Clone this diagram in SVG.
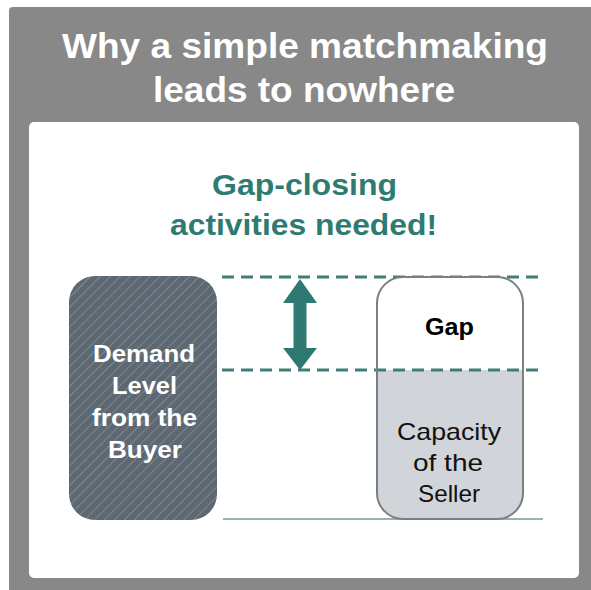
<svg xmlns="http://www.w3.org/2000/svg" width="591" height="590" viewBox="0 0 591 590">
  <defs>
    <style>
      .title { font-family: "Liberation Sans", Arial, sans-serif; font-weight: bold; font-size: 35px; fill: #ffffff; text-anchor: middle; }
      .sub { font-family: "Liberation Sans", Arial, sans-serif; font-weight: bold; font-size: 29px; fill: #2e7b72; text-anchor: middle; }
      .demand { font-family: "Liberation Sans", Arial, sans-serif; font-weight: bold; font-size: 23px; fill: #ffffff; text-anchor: middle; }
      .gap { font-family: "Liberation Sans", Arial, sans-serif; font-weight: bold; font-size: 23px; fill: #000000; text-anchor: middle; }
      .cap { font-family: "Liberation Sans", Arial, sans-serif; font-size: 24px; fill: #111111; text-anchor: middle; }
      .dash { stroke: #3d7f78; stroke-width: 3; stroke-dasharray: 12 7; fill: none; }
    </style>
    <pattern id="hatch" patternUnits="userSpaceOnUse" width="7" height="7" patternTransform="rotate(45)">
      <rect width="7" height="7" fill="#5d6872"/>
      <line x1="0" y1="0" x2="0" y2="7" stroke="#808a93" stroke-width="1.8"/>
    </pattern>
    <clipPath id="sellerClip">
      <rect x="377" y="277" width="146" height="242" rx="26" ry="26"/>
    </clipPath>
  </defs>

  <g id="background">
    <rect x="9" y="7" width="600" height="600" rx="4" ry="4" fill="#888888"/>
    <rect x="29" y="122" width="550" height="456" rx="5" ry="5" fill="#ffffff"/>
  </g>

  <g id="title">
    <text class="title" x="305" y="58" textLength="486" lengthAdjust="spacingAndGlyphs">Why a simple matchmaking</text>
    <text class="title" x="304" y="102" textLength="302" lengthAdjust="spacingAndGlyphs">leads to nowhere</text>
  </g>

  <g id="subtitle">
    <text class="sub" x="304.5" y="195" textLength="185" lengthAdjust="spacingAndGlyphs">Gap-closing</text>
    <text class="sub" x="303.5" y="235" textLength="267" lengthAdjust="spacingAndGlyphs">activities needed!</text>
  </g>

  <g id="connectors">
    <line class="dash" x1="222" y1="277" x2="543" y2="277"/>
    <line class="dash" x1="222" y1="370" x2="543" y2="370"/>
    <line x1="223" y1="519" x2="543" y2="519" stroke="#7a9a94" stroke-width="1.5"/>
    <polygon points="300,279 317,303 306.5,303 306.5,348 317,348 300,370 283,348 293.5,348 293.5,303 283,303" fill="#2e7a73"/>
  </g>

  <g id="demand">
    <rect x="69" y="276" width="148" height="244" rx="26" ry="26" fill="url(#hatch)"/>
    <text class="demand" x="144" y="362" textLength="102" lengthAdjust="spacingAndGlyphs">Demand</text>
    <text class="demand" x="144.5" y="394" textLength="65" lengthAdjust="spacingAndGlyphs">Level</text>
    <text class="demand" x="144.5" y="426" textLength="105" lengthAdjust="spacingAndGlyphs">from the</text>
    <text class="demand" x="145" y="458" textLength="74" lengthAdjust="spacingAndGlyphs">Buyer</text>
  </g>

  <g id="seller">
    <rect x="377" y="277" width="146" height="242" rx="26" ry="26" fill="#ffffff"/>
    <rect x="377" y="370" width="146" height="150" fill="#d1d4d8" clip-path="url(#sellerClip)"/>
    <line class="dash" x1="377" y1="370" x2="523" y2="370" stroke-dashoffset="3"/>
    <rect x="377" y="277" width="146" height="242" rx="26" ry="26" fill="none" stroke="#7b7f82" stroke-width="2"/>
    <text class="gap" x="449.5" y="335" textLength="49" lengthAdjust="spacingAndGlyphs">Gap</text>
    <text class="cap" x="449" y="440" textLength="104" lengthAdjust="spacingAndGlyphs">Capacity</text>
    <text class="cap" x="448" y="471" textLength="70" lengthAdjust="spacingAndGlyphs">of the</text>
    <text class="cap" x="449" y="502" textLength="62" lengthAdjust="spacingAndGlyphs">Seller</text>
  </g>
</svg>
